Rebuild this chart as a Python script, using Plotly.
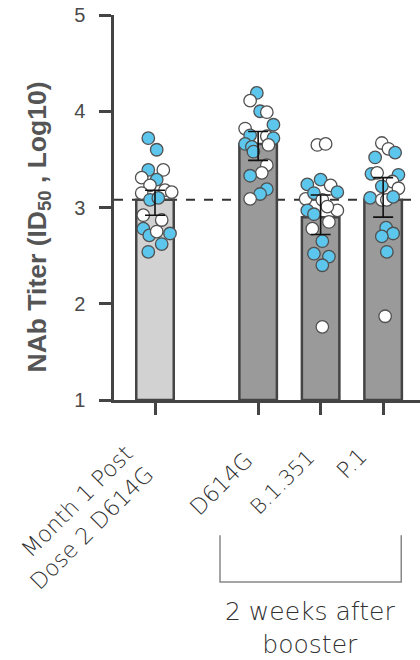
import plotly.graph_objects as go

# ---- data ----
categories = ["Month 1 Post<br>Dose 2 D614G", "D614G", "B.1.351", "P.1"]
cat_pos = [0.0, 1.65, 2.65, 3.65]
bar_means = [3.08, 3.66, 2.90, 3.08]
err_plus = [0.10, 0.13, 0.23, 0.23]
err_minus = [0.16, 0.17, 0.18, 0.18]
reference_line = 3.08

g1_vals = [3.72, 3.60, 3.39, 3.39, 3.31, 3.29, 3.23, 3.18, 3.16, 3.15, 3.08, 3.10,
           2.92, 2.87, 2.78, 2.71, 2.73, 2.75, 2.62, 2.54]
g1_jit = [-6.7, 1.7, -6.7, 8.3, -13.3, 1.7, -5, 10, 16.7, -13.3, -5, 3.3,
          -11.7, 6.7, -11.7, -5.7, 15, 1.7, 6.7, -6.7]
g1_col = list("BBBWWBWWWWBBWWBBBWBB")

g2_vals = [4.19, 4.11, 4.00, 3.99, 3.86, 3.82, 3.75, 3.74, 3.72, 3.66, 3.63, 3.58,
           3.65, 3.44, 3.36, 3.33, 3.19, 3.14, 3.09]
g2_jit = [-1.3, -8, 2, 8.7, 15.3, -13, -8, 8.7, 15.3, -13, -6.3, -4.7,
          10.3, 8.7, 3.7, -8, 8.7, 2, -8]
g2_col = list("BWBWBWBWBBBBWWWBBBW")

g3_vals = [3.65, 3.66, 3.24, 3.29, 3.23, 3.16, 3.09, 3.15, 3.08, 2.97, 2.97, 2.93,
           3.01, 2.85, 2.78, 2.65, 2.52, 2.49, 2.40, 1.76]
g3_jit = [-3.3, 5, -13.3, 0, 10, 16.7, -15, -6.7, 1.7, 16.7, -13.3, -6.7,
          6.7, 8.3, -8.3, 1.7, -6.7, 8.3, 1.7, 1.7]
g3_col = list("WWBBWBWBWWBBWWWBBBBW")

g4_vals = [3.67, 3.61, 3.57, 3.52, 3.35, 3.36, 3.34, 3.27, 3.22, 3.20, 3.10, 3.08,
           3.08, 3.11, 2.79, 2.73, 2.70, 2.54, 1.87]
g4_jit = [-1.3, 5.3, 12, -8, -11.7, -6, 15.3, 9.3, -1.3, 15.3, -13, -1.3,
          3.7, 10, 3, 10, -1.3, 3.7, 2]
g4_col = list("WWBBBWBWBWBWWBBBBBW")

bracket_label = "2 weeks after<br>booster"
y_title = "NAb Titer (ID<sub>50</sub> , Log10)"

# ---- styling ----
PX_PER_UNIT = 62.5
BLUE = "#5cc6ec"
WHITE = "#ffffff"
EDGE = "#444444"
bar_colors = ["#d2d2d2", "#9a9a9a", "#9a9a9a", "#9a9a9a"]
LABEL_FONT = "DejaVu Sans"
label_xshift = [6, 2, 2, -8]
label_yshift = [-38, -44, -42, -40]
label_size = [22.5, 22.5, 21, 22.5]

fig = go.Figure()
fig.add_trace(go.Bar(
    x=cat_pos, y=[m - 1 for m in bar_means], base=1, width=0.6,
    marker=dict(color=bar_colors, line=dict(color=EDGE, width=2.5)),
    showlegend=False, hoverinfo="skip"))

groups = [(g1_vals, g1_jit, g1_col), (g2_vals, g2_jit, g2_col),
          (g3_vals, g3_jit, g3_col), (g4_vals, g4_jit, g4_col)]
for pos, (vals, jit, cols) in zip(cat_pos, groups):
    fig.add_trace(go.Scatter(
        x=[pos + j / PX_PER_UNIT for j in jit], y=vals, mode="markers",
        marker=dict(size=12.5, color=[BLUE if c == "B" else WHITE for c in cols],
                    line=dict(color="#505050", width=1.3)),
        showlegend=False, hoverinfo="skip"))

fig.add_trace(go.Scatter(
    x=cat_pos, y=bar_means, mode="markers", marker=dict(size=0.1, color="rgba(0,0,0,0)"),
    error_y=dict(type="data", array=err_plus, arrayminus=err_minus, symmetric=False,
                 color="#111111", thickness=1.6, width=10),
    showlegend=False, hoverinfo="skip"))

fig.add_shape(type="line", xref="paper", x0=0, x1=1, yref="y", y0=reference_line,
              y1=reference_line, line=dict(color="#333333", width=2, dash="dash"), layer="below")

# category labels (rotated)
for pos, lab, dx, dy, fs in zip(cat_pos, categories, label_xshift, label_yshift, label_size):
    fig.add_annotation(x=pos, xref="x", y=0, yref="paper", xshift=dx, yshift=dy,
                       text=lab, textangle=-45, showarrow=False, align="right",
                       xanchor="right", yanchor="top",
                       font=dict(family=LABEL_FONT, size=fs, color="#303030", weight=200))

# bracket under the booster groups
fig.add_shape(type="path", xref="x", yref="paper",
              path="M 1.04,-0.351 L 1.04,-0.473 L 3.94,-0.473 L 3.94,-0.351",
              line=dict(color="#888888", width=1.5))
fig.add_annotation(x=2.48, xref="x", y=-0.592, yref="paper", text=bracket_label,
                   showarrow=False,
                   font=dict(family=LABEL_FONT, size=25, color="#303030", weight=200),
                   xanchor="center", yanchor="middle", align="center")

fig.add_annotation(x=0, xref="paper", xshift=-76, y=0.5, yref="paper", yshift=-20,
                   text=y_title, textangle=-90, showarrow=False,
                   font=dict(family="Liberation Sans", size=26.5, color="#555555", weight="bold"),
                   xanchor="center", yanchor="middle")

fig.update_layout(
    width=420, height=660, margin=dict(l=114, r=0, t=15, b=260),
    plot_bgcolor="white", paper_bgcolor="white",
    xaxis=dict(range=[-0.656, 4.24], tickvals=cat_pos, showticklabels=False,
               ticks="outside", ticklen=12, tickwidth=2.5, tickcolor=EDGE,
               showline=True, linecolor=EDGE, linewidth=2.5, showgrid=False, zeroline=False),
    yaxis=dict(range=[1, 5], tickvals=[1, 2, 3, 4, 5], ticks="outside", ticklen=12,
               tickwidth=2.5, tickcolor=EDGE, showline=True, linecolor=EDGE, linewidth=2.5,
               showgrid=False, zeroline=False, ticklabelstandoff=10,
               tickfont=dict(family="Liberation Sans", size=20, color="#4a4a4a")),
)

fig.write_html("out.html")
